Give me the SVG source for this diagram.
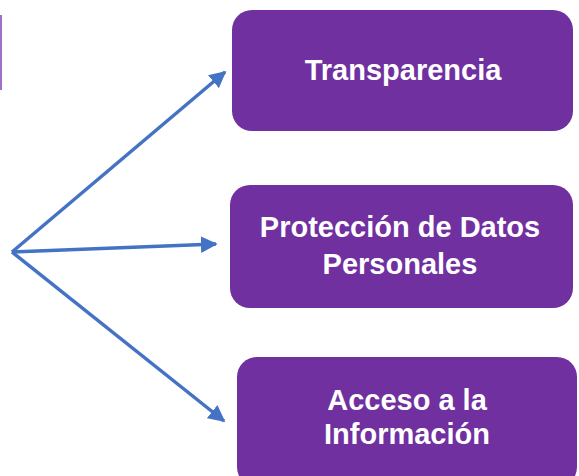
<svg xmlns="http://www.w3.org/2000/svg" width="579" height="476" viewBox="0 0 579 476">
<style>
.box{fill:#7030A0;}
.lbl{font-family:"Liberation Sans",Arial,sans-serif;font-weight:bold;font-size:29px;fill:#ffffff;text-anchor:middle;}
.con{stroke:#4472C4;stroke-width:3.5;fill:none;marker-end:url(#ah);}
</style>
<defs>
<marker id="ah" viewBox="0 0 10 10" refX="9" refY="5" markerWidth="4.8" markerHeight="4.8" orient="auto" markerUnits="strokeWidth">
<path d="M0,0 L10,5 L0,10 z" fill="#4472C4"/>
</marker>
</defs>
<rect x="0" y="15" width="2" height="75" fill="#A070C8"/>
<g id="connectors">
<line class="con" x1="12" y1="252" x2="225" y2="72"/>
<line class="con" x1="12" y1="252" x2="216" y2="244"/>
<line class="con" x1="12" y1="252" x2="224" y2="421"/>
</g>
<g id="n1">
<rect class="box" x="232" y="10" width="341" height="121" rx="20"/>
<text class="lbl" x="403" y="80">Transparencia</text>
</g>
<g id="n2">
<rect class="box" x="230" y="185" width="343" height="123" rx="20"/>
<text class="lbl" x="400" y="237">Protección de Datos</text>
<text class="lbl" x="400" y="274">Personales</text>
</g>
<g id="n3">
<rect class="box" x="237" y="357" width="340" height="130" rx="20"/>
<text class="lbl" x="407" y="410">Acceso a la</text>
<text class="lbl" x="407" y="444">Información</text>
</g>
</svg>
